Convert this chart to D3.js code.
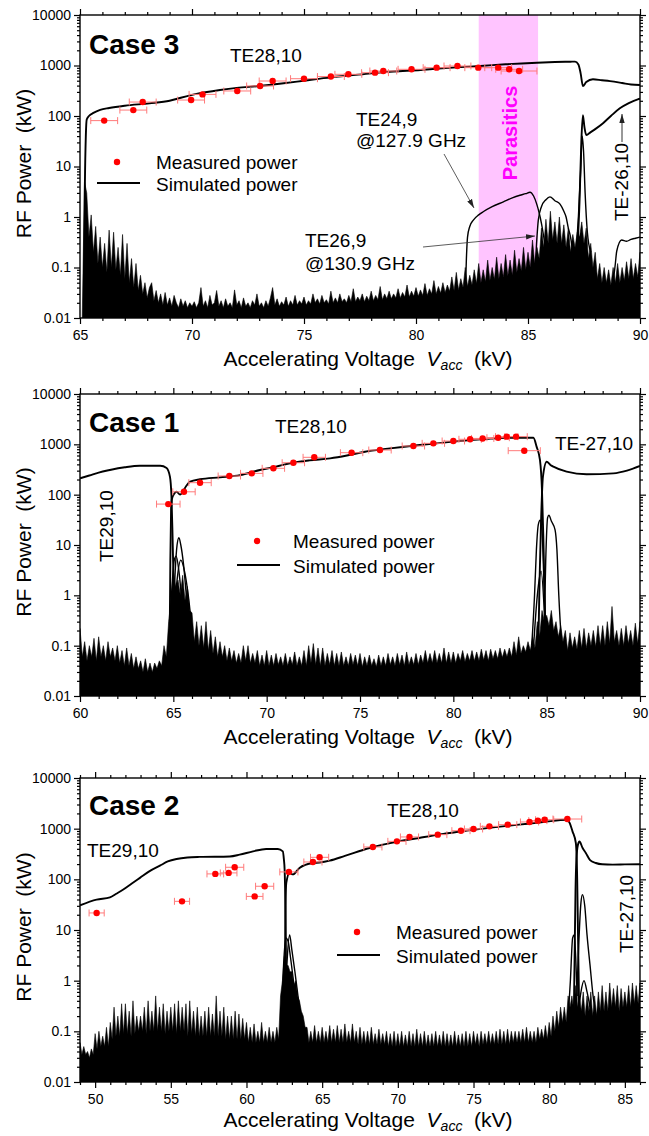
<!DOCTYPE html>
<html>
<head>
<meta charset="utf-8">
<script src="https://cdn.jsdelivr.net/npm/d3@7"></script>
<style>
  body { margin: 0; background: #fff; }
  svg text { font-family: "Liberation Sans", Arial, Helvetica, sans-serif; white-space: pre; }
</style>
</head>
<body>
<svg id="chart" width="649" height="1136"></svg>
<script>
// ---- shared tick labels ----
const yMajor = [0.01, 0.1, 1, 10, 100, 1000, 10000];
const yTickLabels = ["0.01", "0.1", "1", "10", "100", "1000", "10000"];

// ---- Case 3 (top panel) ----
const case3XTicks = [65, 70, 75, 80, 85, 90];
const case3Parasitics = [82.8, 85.45];
const case3Measured = [ // [kV, kW, x error]
  [66.08, 81, 0.6], [67.38, 131, 0.6], [67.8, 189, 0.6], [69.96, 207, 0.6], [70.47, 268, 0.6],
  [72.02, 313, 0.6], [73.04, 393, 0.6], [73.6, 493, 0.6], [75.0, 548, 0.6], [76.2, 605, 0.6],
  [76.98, 669, 0.6], [78.17, 721, 0.6], [78.54, 778, 0.6], [79.8, 840, 0.6], [80.92, 906, 0.6],
  [81.85, 977, 0.6], [82.78, 906, 0.6], [83.67, 906, 0.6], [84.16, 840, 0.6], [84.6, 778, 0.8]
];
const case3TE2810 = [
  [65.18, 0.05], [65.22, 5], [65.26, 40], [65.3, 85], [65.4, 100], [65.6, 115], [65.9, 132],
  [66.3, 144], [67, 160], [68.1, 178], [69, 200], [69.5, 230], [70.3, 280], [71.25, 327],
  [72, 360], [73, 393], [74, 440], [75, 500], [76.2, 583], [77, 630], [78, 700], [79, 760],
  [80.2, 815], [81, 870], [82, 930], [82.86, 977], [84, 1060], [85.4, 1137], [86.2, 1170],
  [86.9, 1190], [87.1, 1195], [87.25, 1050], [87.35, 700], [87.45, 393], [87.6, 470],
  [87.9, 533], [88.3, 510], [88.66, 490], [89.2, 450], [89.6, 420], [90, 411]
];
const case3TE2610 = [
  [87.2, 0.2], [87.3, 2], [87.38, 30], [87.45, 104], [87.52, 60], [87.6, 42], [87.8, 48],
  [88.0, 55], [88.35, 72], [88.7, 100], [89.1, 142], [89.5, 180], [89.9, 214], [90, 220]
];
const case3Spike = [
  [87.15, 0.2], [87.25, 1], [87.35, 8], [87.42, 40], [87.48, 20], [87.55, 3], [87.65, 0.5], [87.8, 0.2]
];
const case3TE249 = [
  [82.2, 0.03], [82.25, 0.15], [82.3, 0.4], [82.4, 0.65], [82.56, 0.87], [82.8, 1.1], [83.0, 1.27],
  [83.4, 1.6], [83.9, 2.0], [84.3, 2.4], [84.64, 2.7], [84.9, 2.9], [85.09, 3.1], [85.25, 2.6],
  [85.39, 1.8], [85.5, 1.2], [85.6, 0.75], [85.75, 0.3], [85.9, 0.12]
];
const case3TE269 = [
  [85.25, 0.05], [85.32, 0.1], [85.4, 0.4], [85.46, 0.87], [85.6, 1.6], [85.8, 2.2], [85.98, 2.5],
  [86.2, 2.1], [86.43, 1.8], [86.6, 1.3], [86.7, 1.0], [86.8, 0.6], [86.9, 0.4], [87.0, 0.2]
];
const case3Tail = [
  [88.8, 0.05], [88.9, 0.12], [88.96, 0.21], [89.18, 0.35], [89.4, 0.33], [89.6, 0.36], [89.8, 0.38], [90, 0.4]
];
// noise floor, sampled every 0.1 kV from 65.1 kV
const case3NoiseStart = 65.1, case3NoiseStep = 0.1;
const case3Noise = [
  .01, 5, 3, .4, 1.1, .2, .65, .12, .4,
  .1, .3, .08, .55, .1, .5, .09, .25, .07, .45,
  .06, .3, .05, .15, .04, .12, .035, .07, .03, .05,
  .025, .04, .05, .022, .035, .02, .03, .018, .032, .018,
  .025, .017, .028, .02, .016, .024, .017, .022, .016, .02,
  .017, .021, .016, .02, .04, .017, .022, .016, .028, .018,
  .02, .035, .017, .022, .016, .024, .017, .02, .016, .036,
  .018, .022, .016, .025, .017, .02, .016, .022, .018, .03,
  .017, .02, .016, .022, .017, .025, .04, .018, .024, .017,
  .021, .018, .026, .017, .022, .018, .028, .018, .022, .019,
  .026, .018, .022, .019, .03, .02, .024, .019, .028, .02,
  .023, .019, .034, .02, .025, .02, .03, .021, .024, .02,
  .028, .021, .038, .021, .026, .022, .03, .021, .027, .022,
  .034, .022, .028, .023, .042, .023, .03, .024, .034, .024,
  .03, .025, .038, .025, .032, .026, .045, .026, .034, .027,
  .04, .027, .036, .028, .048, .028, .038, .03, .055, .03,
  .042, .031, .05, .032, .045, .034, .065, .035, .08, .036,
  .06, .04, .1, .042, .07, .045, .09, .048, .12, .05,
  .09, .052, .14, .055, .1, .058, .16, .06, .12, .065,
  .18, .068, .14, .07, .22, .08, .15, .085, .25, .09,
  .2, .1, .35, .12, .25, .15, .6, .25, .9, .3,
  1.3, .35, .8, .3, 1, .3, .7, .25, .6, .2,
  .45, .25, .5, .4, .8, .3, .6, .15, .3, .1,
  .2, .06, .12, .05, .1, .05, .09, .045, .1, .05,
  .12, .05, .1, .055, .13, .06, .15, .06, .12, .065,
  .2
];

// ---- Case 1 (middle panel) ----
const case1XTicks = [60, 65, 70, 75, 80, 85, 90];
const case1Measured = [
  [64.73, 65, 0.63], [65.57, 114, 0.6], [66.43, 173, 0.6], [68.0, 235, 0.6], [69.2, 265, 0.6],
  [70.36, 334, 0.6], [71.43, 431, 0.6], [72.55, 552, 0.6], [74.55, 682, 0.6], [76.07, 771, 0.6],
  [77.86, 927, 0.6], [78.93, 1047, 0.6], [80.0, 1164, 0.6], [80.9, 1260, 0.6], [81.57, 1310, 0.6],
  [82.4, 1355, 0.6], [82.86, 1420, 0.6], [83.36, 1420, 0.6], [83.8, 748, 0.86]
];
const case1TE2910 = [
  [60, 211], [60.5, 240], [61, 275], [61.6, 309], [62.4, 350], [63.2, 376], [64.3, 376], [64.64, 340],
  [64.82, 226], [64.9, 91], [64.95, 20], [65.0, 3], [65.05, 0.5], [65.1, 0.08]
];
const case1TE2810 = [
  [64.8, 0.08], [64.84, 5], [64.88, 50], [64.92, 80], [65.05, 105], [65.18, 114], [65.36, 100],
  [65.5, 114], [65.7, 150], [65.9, 181], [66.43, 202], [67.5, 221], [68.57, 244], [69.64, 309],
  [70.5, 360], [71.25, 420], [72.3, 480], [73.4, 527], [74.3, 600], [75.27, 714], [76.5, 820],
  [78.2, 970], [79.5, 1080], [80.9, 1220], [82, 1300], [82.86, 1355], [84.29, 1355], [84.46, 900],
  [84.64, 489], [84.75, 120], [84.82, 15], [84.88, 1.5], [84.95, 0.08]
];
const case1TE2710 = [
  [84.55, 0.08], [84.62, 2], [84.7, 30], [84.8, 227], [85.0, 452], [85.2, 390], [85.36, 360],
  [86.07, 286], [87.14, 254], [88.57, 265], [89.3, 300], [90, 372]
];
const case1Lumps = [
  [[64.75, 0.1], [64.9, 1], [65.05, 5], [65.15, 6], [65.3, 3], [65.5, 0.5], [65.7, 0.1]],
  [[64.95, 0.1], [65.1, 3], [65.2, 10], [65.3, 14], [65.4, 10], [65.55, 4], [65.7, 1], [65.9, 0.3], [66.1, 0.1]],
  [[65.0, 0.2], [65.2, 2], [65.4, 5], [65.6, 3], [65.8, 1], [66.0, 0.2]],
  [[84.2, 0.1], [84.35, 1], [84.45, 8], [84.55, 25], [84.65, 31], [84.75, 20], [84.85, 2], [84.95, 0.2]],
  [[84.85, 0.1], [84.95, 5], [85.05, 35], [85.12, 39], [85.25, 30], [85.45, 20], [85.55, 8], [85.65, 1], [85.8, 0.1]],
  [[84.3, 0.1], [84.5, 1], [84.7, 3], [84.9, 0.3]]
];
// noise floor, sampled every 0.125 kV from 60 kV
const case1NoiseStart = 60, case1NoiseStep = 0.125;
const case1Noise = [
  .22, .06, .12, .05, .1, .06, .14, .05,
  .15, .06, .1, .05, .12, .06, .09, .05,
  .1, .045, .08, .04, .09, .04, .07, .035,
  .06, .035, .05, .03, .055, .03, .045, .03,
  .045, .035, .05, .04, .1, .06, .3, .8,
  3, 1.5, 2, 1, 2.5, .8, 1.5, .5,
  .45, .12, .3, .1, .25, .09, .3, .08,
  .2, .07, .15, .06, .12, .06, .1, .05,
  .09, .05, .08, .045, .07, .045, .1, .05,
  .1, .045, .07, .045, .08, .04, .065, .04,
  .08, .04, .065, .04, .07, .042, .06, .04,
  .07, .04, .06, .042, .075, .04, .06, .04,
  .08, .04, .1, .045, .11, .042, .09, .04,
  .09, .04, .07, .042, .08, .04, .07, .04,
  .075, .04, .06, .04, .07, .042, .065, .04,
  .07, .038, .06, .04, .065, .04, .055, .038,
  .065, .04, .06, .04, .07, .042, .06, .04,
  .07, .042, .065, .04, .075, .042, .06, .042,
  .07, .042, .065, .045, .08, .045, .07, .045,
  .08, .045, .07, .045, .09, .045, .075, .045,
  .075, .045, .07, .05, .08, .048, .07, .05,
  .08, .05, .075, .05, .085, .052, .08, .05,
  .085, .055, .08, .055, .09, .058, .085, .06,
  .09, .06, .12, .065, .15, .07, .1, .075,
  .12, .08, .15, .09, .3, .15, .5, .3,
  .4, .25, .5, .2, .3, .15, .25, .12,
  .2, .08, .18, .09, .15, .085, .2, .09,
  .22, .09, .18, .1, .2, .095, .25, .1,
  .25, .1, .3, .11, .6, .12, .2, .1,
  .22, .1, .25, .11, .2, .1, .28, .11,
  .3
];

// ---- Case 2 (bottom panel) ----
const case2XTicks = [50, 55, 60, 65, 70, 75, 80, 85];
const case2Measured = [
  [50.1, 21.7, 0.5], [55.74, 36.8, 0.5], [57.94, 128, 0.55], [58.82, 134, 0.55], [59.22, 173, 0.6],
  [60.54, 46, 0.55], [61.2, 73, 0.6], [62.8, 140, 0.6], [64.39, 220, 0.6], [64.83, 272, 0.6],
  [68.35, 435, 0.6], [69.94, 562, 0.6], [70.77, 686, 0.6], [72.64, 762, 0.6], [74.17, 912, 0.6],
  [75.0, 986, 0.6], [76.05, 1112, 0.6], [77.26, 1200, 0.6], [78.7, 1355, 0.6], [79.25, 1440, 0.6],
  [79.7, 1500, 0.6], [81.2, 1550, 0.95]
];
const case2TE2910 = [
  [49, 30.7], [50.1, 39.8], [50.98, 44], [51.4, 52], [51.86, 63], [52.4, 82], [52.96, 107],
  [53.6, 145], [54.28, 186], [54.8, 225], [55.38, 252], [56.1, 270], [56.9, 277], [58.9, 283],
  [59.55, 307], [60.43, 357], [61.3, 398], [62.07, 398], [62.4, 357], [62.47, 250], [62.52, 155],
  [62.57, 30], [62.6, 5], [62.63, 0.5], [62.66, 0.05]
];
const case2TE2810 = [
  [62.52, 0.05], [62.55, 3], [62.58, 30], [62.63, 85], [62.85, 134], [63.07, 125], [63.5, 168],
  [64.39, 210], [64.83, 215], [65.5, 234], [66.5, 290], [68.13, 416], [69.5, 520], [71.4, 656],
  [73, 790], [74.7, 925], [76.3, 1060], [78.0, 1200], [79.6, 1350], [81.2, 1503], [81.35, 1300],
  [81.54, 885], [81.76, 522], [81.85, 100], [81.9, 10], [81.95, 1], [82, 0.1]
];
const case2TE2710 = [
  [81.6, 0.05], [81.68, 3], [81.74, 60], [81.8, 250], [81.9, 480], [82.0, 560], [82.2, 420],
  [82.42, 332], [82.7, 240], [83.08, 210], [83.5, 198], [84.2, 195], [85, 197], [86, 199]
];
const case2Lumps = [
  [[62.3, 0.1], [62.45, 2], [62.6, 7], [62.75, 6], [62.9, 3], [63.1, 1], [63.3, 0.3], [63.5, 0.1]],
  [[62.5, 0.1], [62.7, 3], [62.85, 8], [63.0, 4], [63.2, 1.5], [63.4, 0.5], [63.7, 0.1]],
  [[81.2, 0.1], [81.4, 1], [81.55, 7], [81.65, 8], [81.75, 3], [81.85, 0.5]],
  [[81.8, 0.3], [81.95, 5], [82.1, 35], [82.2, 50], [82.35, 30], [82.5, 8], [82.7, 2], [82.9, 0.5], [83.1, 0.2]],
  [[81.9, 0.2], [82.1, 0.6], [82.3, 1], [82.5, 0.6], [82.7, 0.3]]
];
// noise floor, sampled every 0.125 kV from 49 kV
const case2NoiseStart = 49, case2NoiseStep = 0.125;
const case2Noise = [
  .06, .035, .05, .035, .04, .03, .045, .035,
  .09, .045, .1, .05, .08, .05, .12, .05,
  .15, .07, .3, .08, .2, .08, .35, .09,
  .35, .09, .25, .08, .4, .09, .2, .1,
  .2, .1, .3, .09, .4, .1, .25, .1,
  .5, .1, .3, .1, .35, .09, .25, .1,
  .3, .1, .35, .09, .4, .1, .3, .1,
  .35, .08, .4, .09, .25, .08, .3, .08,
  .2, .08, .25, .08, .3, .08, .22, .08,
  .5, .08, .25, .08, .3, .07, .2, .07,
  .2, .07, .25, .07, .22, .07, .18, .07,
  .15, .06, .12, .06, .14, .06, .1, .06,
  .15, .06, .1, .06, .12, .06, .1, .06,
  .12, .07, .5, 1, 3, 2, 2, 1.5,
  1.5, .8, 1, .5, .4, .25, .2, .12,
  .12, .06, .1, .06, .13, .06, .1, .06,
  .12, .06, .1, .06, .13, .06, .11, .06,
  .13, .06, .11, .06, .14, .06, .1, .06,
  .14, .06, .1, .055, .12, .055, .1, .055,
  .1, .055, .12, .055, .09, .055, .11, .055,
  .09, .055, .1, .05, .09, .05, .1, .05,
  .09, .05, .1, .05, .085, .05, .1, .05,
  .09, .05, .11, .05, .09, .05, .1, .05,
  .085, .05, .09, .05, .1, .05, .085, .05,
  .1, .05, .09, .05, .085, .05, .1, .05,
  .085, .05, .09, .05, .1, .05, .09, .05,
  .1, .055, .09, .05, .1, .055, .09, .055,
  .1, .055, .09, .055, .1, .055, .11, .055,
  .1, .055, .11, .055, .1, .06, .1, .06,
  .1, .06, .11, .06, .12, .06, .1, .06,
  .1, .06, .12, .07, .11, .07, .13, .07,
  .15, .08, .2, .1, .25, .12, .3, .15,
  .3, .15, .5, .3, .5, .25, .8, .3,
  .5, .25, .6, .2, .5, .25, .6, .2,
  .5, .2, .6, .25, .8, .25, .6, .25,
  .9, .3, .7, .3, .8, .25, .7, .3,
  .6, .3, .8, .3, .9, .35, .8, .35,
  .9
];

// ---- drawing ----
const svg = d3.select("#chart");
const left = 80, right = 640;
const defs = svg.append("defs");
defs.append("marker")
    .attr("id", "arrow")
    .attr("viewBox", "0 0 10 6")
    .attr("refX", 10).attr("refY", 3)
    .attr("markerWidth", 9).attr("markerHeight", 6)
    .attr("markerUnits", "userSpaceOnUse")
    .attr("orient", "auto")
    .append("path").attr("d", "M0,0 L10,3 L0,6 Z").attr("fill", "#222");

function drawPanel(p) {
    const x = d3.scaleLinear().domain(p.xDomain).range([left, right]);
    const y = d3.scaleLog().domain([0.01, 10000]).range([p.bottom, p.top]);
    const g = svg.append("g");

    defs.append("clipPath").attr("id", "clip" + p.id)
        .append("rect")
        .attr("x", left).attr("y", p.top)
        .attr("width", right - left).attr("height", p.bottom - p.top);
    const plot = g.append("g").attr("clip-path", `url(#clip${p.id})`);

    if (p.band) {
        plot.append("rect")
            .attr("x", x(p.band[0])).attr("y", p.top)
            .attr("width", x(p.band[1]) - x(p.band[0]))
            .attr("height", p.bottom - p.top)
            .attr("fill", "#ffc4ff");
    }

    // noise floor: samples on a regular kV grid
    const area = d3.area()
        .x((d, i) => x(p.noiseStart + i * p.noiseStep))
        .y0(p.bottom)
        .y1(d => y(d));
    plot.append("path").datum(p.noise)
        .attr("d", area)
        .attr("fill", "#000").attr("stroke", "#000").attr("stroke-width", 0.6);

    const line = d3.line().x(d => x(d[0])).y(d => y(d[1])).curve(d3.curveMonotoneX);
    p.thin.forEach(s => plot.append("path").datum(s).attr("d", line)
        .attr("fill", "none").attr("stroke", "#000").attr("stroke-width", 1.4));
    p.sim.forEach(s => plot.append("path").datum(s).attr("d", line)
        .attr("fill", "none").attr("stroke", "#000").attr("stroke-width", 1.9));

    // measured power with x error bars
    const eb = plot.append("g").attr("stroke", "#ff7a7a").attr("stroke-width", 1);
    p.meas.forEach(d => {
        const cy = y(d[1]), x0 = x(d[0] - d[2]), x1 = x(d[0] + d[2]);
        eb.append("line").attr("x1", x0).attr("x2", x1).attr("y1", cy).attr("y2", cy);
        eb.append("line").attr("x1", x0).attr("x2", x0).attr("y1", cy - 3.5).attr("y2", cy + 3.5);
        eb.append("line").attr("x1", x1).attr("x2", x1).attr("y1", cy - 3.5).attr("y2", cy + 3.5);
    });
    plot.append("g").selectAll("circle")
        .data(p.meas).enter()
        .append("circle")
        .attr("cx", d => x(d[0])).attr("cy", d => y(d[1]))
        .attr("r", 3.2).attr("fill", "#ff0000");

    // axes
    const yMinor = y.ticks().filter(v => !yMajor.includes(v));
    const xMinor = d3.range(Math.ceil(p.xDomain[0]), p.xDomain[1] + 0.001, 1).filter(v => !p.xTicks.includes(v));
    const style = sel => {
        sel.select(".domain").remove();
        sel.selectAll("line").attr("stroke", "#000").attr("stroke-width", 1.2);
        sel.selectAll("text").attr("font-size", "14px").attr("fill", "#000")
            .attr("font-family", "Liberation Sans, Arial, sans-serif");
    };
    g.append("g").attr("transform", `translate(${left},0)`)
        .call(d3.axisLeft(y).tickValues(yMinor).tickSize(3).tickFormat("")).call(style);
    g.append("g").attr("transform", `translate(${left},0)`)
        .call(d3.axisLeft(y).tickValues(yMajor).tickSize(6).tickPadding(3)
            .tickFormat((d, i) => yTickLabels[i])).call(style);
    g.append("g").attr("transform", `translate(${right},0)`)
        .call(d3.axisRight(y).tickValues(yMinor).tickSize(3).tickFormat("")).call(style);
    g.append("g").attr("transform", `translate(${right},0)`)
        .call(d3.axisRight(y).tickValues(yMajor).tickSize(6).tickFormat("")).call(style);
    g.append("g").attr("transform", `translate(0,${p.bottom})`)
        .call(d3.axisBottom(x).tickValues(xMinor).tickSize(3).tickFormat("")).call(style);
    g.append("g").attr("transform", `translate(0,${p.bottom})`)
        .call(d3.axisBottom(x).tickValues(p.xTicks).tickSize(6).tickPadding(6)
            .tickFormat(d3.format("d"))).call(style);
    g.append("g").attr("transform", `translate(0,${p.top})`)
        .call(d3.axisTop(x).tickValues(xMinor).tickSize(3).tickFormat("")).call(style);
    g.append("g").attr("transform", `translate(0,${p.top})`)
        .call(d3.axisTop(x).tickValues(p.xTicks).tickSize(6).tickFormat("")).call(style);

    g.append("rect")
        .attr("x", left).attr("y", p.top)
        .attr("width", right - left).attr("height", p.bottom - p.top)
        .attr("fill", "none").attr("stroke", "#000").attr("stroke-width", 1.4);

    // axis titles
    const xt = g.append("text")
        .attr("x", 368).attr("y", p.bottom + p.titleGap)
        .attr("text-anchor", "middle").attr("font-size", "21px")
        .attr("xml:space", "preserve");
    xt.append("tspan").text("Accelerating Voltage  ");
    xt.append("tspan").attr("font-style", "italic").text("V");
    xt.append("tspan").attr("font-style", "italic").attr("font-size", "14px").attr("dy", 4).text("acc");
    xt.append("tspan").attr("dy", -4).text("  (kV)");

    g.append("text")
        .attr("transform", `translate(31,${(p.top + p.bottom) / 2 - 3}) rotate(-90)`)
        .attr("text-anchor", "middle").attr("font-size", "21px")
        .attr("xml:space", "preserve")
        .text("RF Power  (kW)");

    return g;
}

function label(g, txt, xPos, yPos, opts = {}) {
    const t = g.append("text")
        .attr("font-size", opts.size || "19px")
        .attr("font-weight", opts.bold ? "bold" : "normal")
        .attr("fill", opts.fill || "#000")
        .attr("text-anchor", opts.anchor || "start")
        .text(txt);
    if (opts.rotate) t.attr("transform", `translate(${xPos},${yPos}) rotate(-90)`);
    else t.attr("x", xPos).attr("y", yPos);
    return t;
}

function legend(g, dotX, dotY, textX, lineY) {
    g.append("circle").attr("cx", dotX).attr("cy", dotY).attr("r", 3.2).attr("fill", "#ff0000");
    label(g, "Measured power", textX, dotY + 7);
    g.append("line").attr("x1", dotX - 20).attr("x2", dotX + 23)
        .attr("y1", lineY).attr("y2", lineY).attr("stroke", "#000").attr("stroke-width", 1.9);
    label(g, "Simulated power", textX, lineY + 8);
}

function arrow(g, x1, y1, x2, y2, w) {
    g.append("line").attr("x1", x1).attr("y1", y1).attr("x2", x2).attr("y2", y2)
        .attr("stroke", "#333").attr("stroke-width", w || 0.8)
        .attr("marker-end", "url(#arrow)");
}

// Case 3
const g3 = drawPanel({
    id: 3, top: 15, bottom: 318, xDomain: [65, 90], xTicks: case3XTicks, titleGap: 48,
    band: case3Parasitics,
    noise: case3Noise, noiseStart: case3NoiseStart, noiseStep: case3NoiseStep,
    thin: [case3Spike, case3TE249, case3TE269, case3Tail],
    sim: [case3TE2810, case3TE2610], meas: case3Measured
});
label(g3, "Case 3", 89, 54, { size: "28px", bold: true });
label(g3, "TE28,10", 230, 62);
legend(g3, 117, 162, 156, 183);
label(g3, "Parasitics", 517, 133, { size: "20px", bold: true, fill: "#ff00ff", rotate: true, anchor: "middle" });
label(g3, "TE24,9", 356, 126);
label(g3, "@127.9 GHz", 356, 147);
arrow(g3, 444, 154, 474, 208);
label(g3, "TE26,9", 305, 247);
label(g3, "@130.9 GHz", 305, 270);
arrow(g3, 423, 247, 535, 236);
label(g3, "TE-26,10", 628, 221, { rotate: true });
arrow(g3, 622, 142, 622, 114, 1);

// Case 1
const g1 = drawPanel({
    id: 1, top: 394, bottom: 696, xDomain: [60, 90], xTicks: case1XTicks, titleGap: 48,
    noise: case1Noise, noiseStart: case1NoiseStart, noiseStep: case1NoiseStep,
    thin: case1Lumps,
    sim: [case1TE2910, case1TE2810, case1TE2710], meas: case1Measured
});
label(g1, "Case 1", 89, 432, { size: "28px", bold: true });
label(g1, "TE28,10", 275, 433);
label(g1, "TE-27,10", 555, 450);
label(g1, "TE29,10", 113, 562, { rotate: true });
legend(g1, 257, 541, 293, 565);

// Case 2
const g2 = drawPanel({
    id: 2, top: 778, bottom: 1082, xDomain: [49, 86], xTicks: case2XTicks, titleGap: 45,
    noise: case2Noise, noiseStart: case2NoiseStart, noiseStep: case2NoiseStep,
    thin: case2Lumps,
    sim: [case2TE2910, case2TE2810, case2TE2710], meas: case2Measured
});
label(g2, "Case 2", 89, 815, { size: "28px", bold: true });
label(g2, "TE29,10", 87, 857);
label(g2, "TE28,10", 387, 817);
label(g2, "TE-27,10", 633, 953, { rotate: true });
legend(g2, 357, 932, 396, 955);
</script>
</body>
</html>
